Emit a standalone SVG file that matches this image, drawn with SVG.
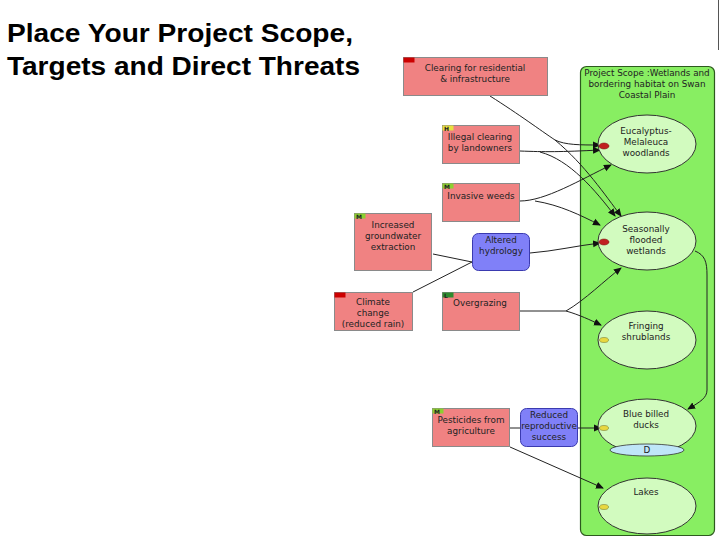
<svg xmlns="http://www.w3.org/2000/svg" width="720" height="540" viewBox="0 0 720 540">
<defs>
<marker id="ah" markerWidth="8" markerHeight="8" refX="7" refY="4" orient="auto" markerUnits="userSpaceOnUse"><path d="M0,0.5 L8,4 L0,7.5 Z" fill="#111"/></marker>
<style>
.t{font-family:"DejaVu Sans","Verdana",sans-serif;font-size:8.8px;fill:#222;text-anchor:middle}
.title{font-family:"Liberation Sans",Arial,sans-serif;font-size:26px;font-weight:bold;fill:#000}
.threat{fill:#f08282;stroke:#8a8a8a;stroke-width:1}
.factor{fill:#8080f8;stroke:#3a3ab0;stroke-width:1}
.target{fill:#d2fbbf;stroke:#333;stroke-width:1}
.c{fill:none;stroke:#222;stroke-width:1}
.ca{fill:none;stroke:#222;stroke-width:1;marker-end:url(#ah)}
.tg{font-family:"DejaVu Sans",sans-serif;font-size:6px;fill:#222;font-weight:bold}
</style>
</defs>
<rect width="720" height="540" fill="#fff"/>
<text class="title" x="7" y="42" textLength="346" lengthAdjust="spacingAndGlyphs">Place Your Project Scope,</text>
<text class="title" x="7" y="75" textLength="353" lengthAdjust="spacingAndGlyphs">Targets and Direct Threats</text>
<line x1="718.5" y1="0" x2="718.5" y2="50" stroke="#555" stroke-width="1"/>

<g id="scope">
<rect x="580.5" y="66.5" width="134" height="469" rx="6" fill="#88ee62" stroke="#2d5a1e" stroke-width="1.2"/>
<text class="t" x="647" y="76">Project Scope :Wetlands and</text>
<text class="t" x="647" y="87">bordering habitat on Swan</text>
<text class="t" x="647" y="98">Coastal Plain</text>
</g>

<g id="connectors">
<path class="ca" d="M490,96 C520,115 540,130 555,140 C565,145 580,145 600,145"/>
<path class="ca" d="M555,140 C585,165 605,195 621,216"/>
<path class="ca" d="M520,151 C545,152 560,152 600,150"/>
<path class="ca" d="M540,152 C570,160 595,190 615,216"/>
<path class="ca" d="M520,201 C545,201 580,180 611,165"/>
<path class="ca" d="M535,201 C560,205 580,215 600,225"/>
<path class="ca" d="M530,253 C555,251 575,246 600,243"/>
<path class="c" d="M433,254 L472,262"/>
<path class="c" d="M413,292 L472,262"/>
<path class="ca" d="M520,311 L566,311 C585,300 605,280 621,268"/>
<path class="ca" d="M566,311 C580,315 590,320 601,325"/>
<path class="ca" d="M695,251 C705,255 707,262 707,275 L707,390 C707,398 700,402 688,409"/>
<path class="c" d="M510,428 L520,428"/>
<path class="ca" d="M578,428 L601,428"/>
<path class="ca" d="M510,447 L603,488"/>
</g>

<g id="clearing">
<rect class="threat" x="403.5" y="57.5" width="144" height="38"/>
<rect x="403.5" y="57.5" width="11" height="5" fill="#cc0000"/>
<text class="t" x="475" y="71">Clearing for residential</text>
<text class="t" x="475" y="82">&amp; infrastructure</text>
</g>
<g id="illegal">
<rect class="threat" x="442.5" y="125.5" width="77" height="38"/>
<rect x="442.5" y="125.5" width="11" height="5" fill="#e8e040"/>
<text class="tg" x="444" y="130.5">H</text>
<text class="t" x="480" y="140">Illegal clearing</text>
<text class="t" x="480" y="151">by landowners</text>
</g>
<g id="weeds">
<rect class="threat" x="442.5" y="183.5" width="77" height="38"/>
<rect x="442.5" y="183.5" width="11" height="5" fill="#8cd030"/>
<text class="tg" x="444" y="188.5">M</text>
<text class="t" x="481" y="199">Invasive weeds</text>
</g>
<g id="groundwater">
<rect class="threat" x="354.5" y="213.5" width="77" height="57"/>
<rect x="354.5" y="213.5" width="11" height="5" fill="#8cd030"/>
<text class="tg" x="356" y="218.5">M</text>
<text class="t" x="393" y="228">Increased</text>
<text class="t" x="393" y="239">groundwater</text>
<text class="t" x="393" y="250">extraction</text>
</g>
<g id="hydrology">
<rect class="factor" x="472.5" y="233.5" width="57" height="37" rx="6"/>
<text class="t" x="501" y="243">Altered</text>
<text class="t" x="501" y="254">hydrology</text>
</g>
<g id="climate">
<rect class="threat" x="334.5" y="292.5" width="78" height="38"/>
<rect x="334.5" y="292.5" width="11" height="5" fill="#cc0000"/>
<text class="t" x="373" y="305">Climate</text>
<text class="t" x="373" y="316">change</text>
<text class="t" x="373" y="327">(reduced rain)</text>
</g>
<g id="overgrazing">
<rect class="threat" x="442.5" y="292.5" width="77" height="38"/>
<rect x="442.5" y="292.5" width="11" height="5" fill="#2e8a2e"/>
<text class="tg" x="444" y="297.5">L</text>
<text class="t" x="480" y="306">Overgrazing</text>
</g>
<g id="pesticides">
<rect class="threat" x="432.5" y="408.5" width="77" height="38"/>
<rect x="432.5" y="408.5" width="11" height="5" fill="#8cd030"/>
<text class="tg" x="434" y="413.5">M</text>
<text class="t" x="471" y="423">Pesticides from</text>
<text class="t" x="471" y="434">agriculture</text>
</g>
<g id="reduced">
<rect class="factor" x="520.5" y="408.5" width="57" height="38" rx="6"/>
<text class="t" x="549" y="418">Reduced</text>
<text class="t" x="549" y="429">reproductive</text>
<text class="t" x="549" y="440">success</text>
</g>

<g id="woodlands">
<ellipse class="target" cx="647" cy="144" rx="49" ry="29"/>
<ellipse cx="604" cy="146" rx="5" ry="3" fill="#c02020" stroke="#700" stroke-width="0.5"/>
<text class="t" x="646" y="134">Eucalyptus-</text>
<text class="t" x="646" y="145">Melaleuca</text>
<text class="t" x="646" y="156">woodlands</text>
</g>
<g id="wetlands">
<ellipse class="target" cx="647" cy="241" rx="49" ry="29"/>
<ellipse cx="604" cy="242" rx="5" ry="3" fill="#c02020" stroke="#700" stroke-width="0.5"/>
<text class="t" x="646" y="232">Seasonally</text>
<text class="t" x="646" y="243">flooded</text>
<text class="t" x="646" y="254">wetlands</text>
</g>
<g id="fringing">
<ellipse class="target" cx="647" cy="340" rx="49" ry="29"/>
<ellipse cx="604" cy="340" rx="4.5" ry="2.5" fill="#e8d840" stroke="#6a6a20" stroke-width="0.5"/>
<text class="t" x="646" y="329">Fringing</text>
<text class="t" x="646" y="340">shrublands</text>
</g>
<g id="ducks">
<ellipse class="target" cx="647" cy="426" rx="49" ry="27"/>
<ellipse cx="647" cy="450" rx="37" ry="6" fill="#bfe6f8" stroke="#333" stroke-width="0.8"/>
<ellipse cx="604" cy="428" rx="4.5" ry="2.5" fill="#e8d840" stroke="#6a6a20" stroke-width="0.5"/>
<text class="t" x="646" y="417">Blue billed</text>
<text class="t" x="646" y="428">ducks</text>
<text class="t" x="647" y="453">D</text>
</g>
<g id="lakes">
<ellipse class="target" cx="647" cy="506" rx="49" ry="28"/>
<ellipse cx="604" cy="507" rx="4.5" ry="2.5" fill="#e8d840" stroke="#6a6a20" stroke-width="0.5"/>
<text class="t" x="646" y="495">Lakes</text>
</g>
</svg>
